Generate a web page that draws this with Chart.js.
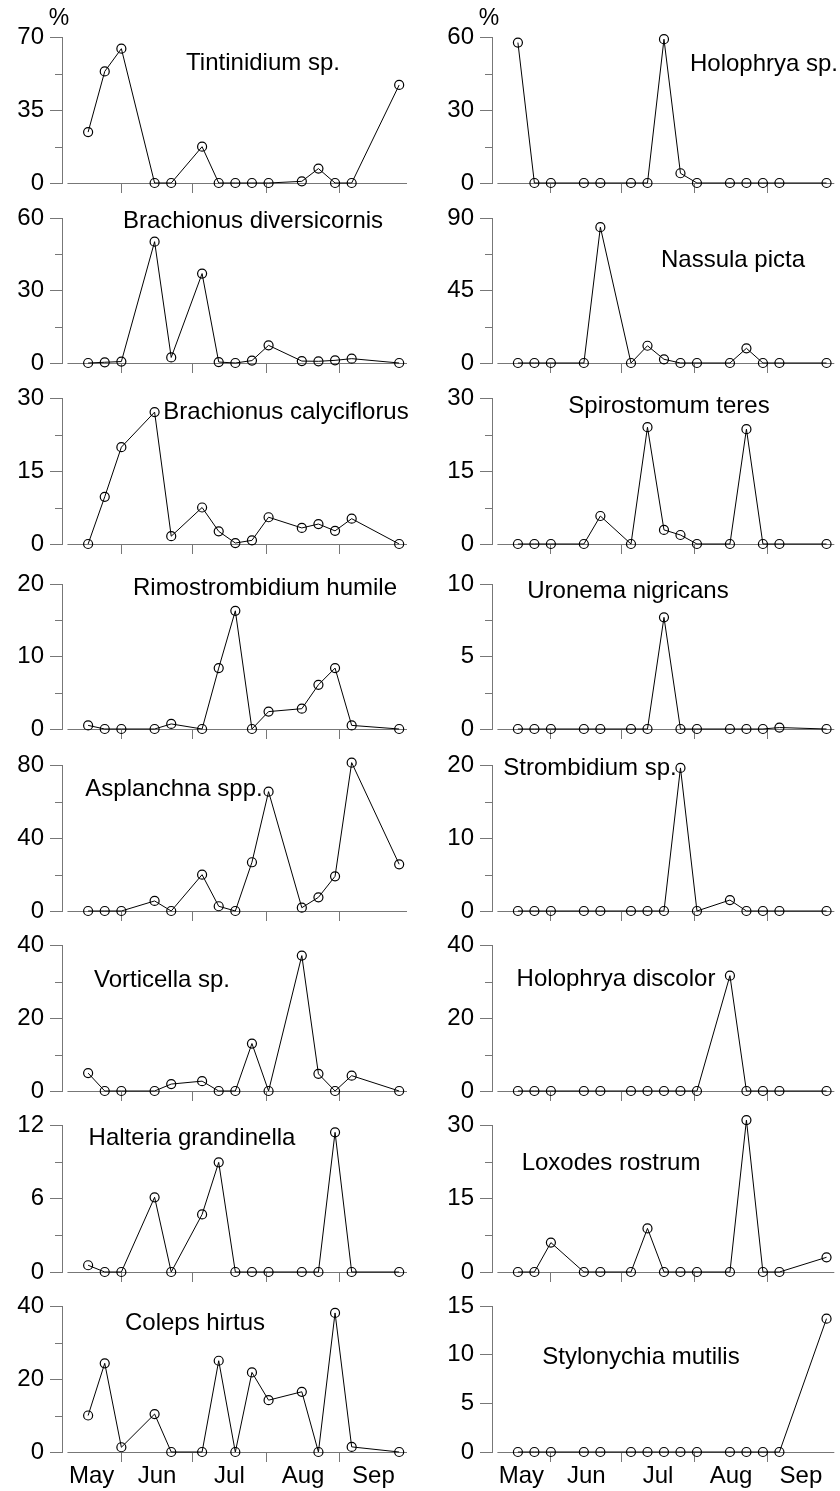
<!DOCTYPE html>
<html><head><meta charset="utf-8">
<script src="https://cdn.jsdelivr.net/npm/chart.js@4.4.0/dist/chart.umd.min.js"></script>
<style>
html,body{margin:0;padding:0;background:#fff;}
#wrap{position:relative;width:840px;height:1491px;overflow:hidden;background:#fff;}
canvas{position:absolute;}
</style></head><body><div id="wrap"></div>
<script>
// ---- data ----
// sampling dates as days after 1 May
const sampleDays = [17, 24, 31, 45, 52, 65, 72, 79, 86, 93, 107, 114, 121, 128, 148];
const monthNames = ['May', 'Jun', 'Jul', 'Aug', 'Sep'];
const monthStarts = [0, 31, 61, 92, 123, 153];

const speciesLeft = ['Tintinidium sp.', 'Brachionus diversicornis', 'Brachionus calyciflorus',
  'Rimostrombidium humile', 'Asplanchna spp.', 'Vorticella sp.', 'Halteria grandinella', 'Coleps hirtus'];
const speciesRight = ['Holophrya sp.', 'Nassula picta', 'Spirostomum teres', 'Uronema nigricans',
  'Strombidium sp.', 'Holophrya discolor', 'Loxodes rostrum', 'Stylonychia mutilis'];
const yMaxLeft = [70, 60, 30, 20, 80, 40, 12, 40];
const yMaxRight = [60, 90, 30, 10, 20, 40, 30, 15];
const yLabelStepLeft = [35, 30, 15, 10, 40, 20, 6, 20];
const yLabelStepRight = [30, 45, 15, 5, 10, 20, 15, 5];

const tintinidium     = [24.4, 53.5, 64.4, 0, 0, 17.4, 0, 0, 0, 0, 0.8, 6.9, 0, 0, 47];
const brachionusDiv   = [0, 0.3, 0.6, 50.2, 2.3, 37, 0.4, 0, 1.0, 7.3, 0.8, 0.7, 1.1, 1.8, 0];
const brachionusCal   = [0, 9.7, 19.9, 27.1, 1.6, 7.5, 2.6, 0.2, 0.75, 5.5, 3.3, 4.1, 2.7, 5.2, 0];
const rimostrombidium = [0.5, 0, 0, 0, 0.7, 0, 8.4, 16.3, 0, 2.4, 2.8, 6.1, 8.4, 0.5, 0];
const asplanchna      = [0, 0, 0, 5.5, 0, 19.9, 2.6, 0, 26.7, 65.4, 1.8, 7.5, 19, 81.3, 25.6];
const vorticella      = [4.9, 0, 0, 0, 1.9, 2.7, 0, 0, 13, 0, 37.1, 4.7, 0, 4.2, 0];
const halteria        = [0.55, 0, 0, 6.1, 0, 4.7, 8.95, 0, 0, 0, 0, 0, 11.4, 0, 0];
const coleps          = [10, 24.3, 1.3, 10.4, 0, 0, 25, 0, 21.8, 14.2, 16.5, 0, 38.1, 1.4, 0];

const holophryaSp     = [57.7, 0, 0, 0, 0, 0, 0, 59.1, 4.0, 0, 0, 0, 0, 0, 0];
const nassula         = [0, 0, 0, 0, 84.3, 0, 10.7, 2.3, 0, 0, 0, 9.1, 0, 0, 0];
const spirostomum     = [0, 0, 0, 0, 5.75, 0, 24.0, 2.9, 1.85, 0, 0, 23.6, 0, 0, 0];
const uronema         = [0, 0, 0, 0, 0, 0, 0, 7.7, 0, 0, 0, 0, 0, 0.1, 0];
const strombidium     = [0, 0, 0, 0, 0, 0, 0, 0, 19.6, 0, 1.5, 0, 0, 0, 0];
const holophryaDis    = [0, 0, 0, 0, 0, 0, 0, 0, 0, 0, 31.6, 0, 0, 0, 0];
const loxodes         = [0, 0, 6.0, 0, 0, 0, 8.9, 0, 0, 0, 0, 31.0, 0, 0, 3.0];
const stylonychia     = [0, 0, 0, 0, 0, 0, 0, 0, 0, 0, 0, 0, 0, 0, 13.7];

const seriesLeft = [tintinidium, brachionusDiv, brachionusCal, rimostrombidium, asplanchna, vorticella, halteria, coleps];
const seriesRight = [holophryaSp, nassula, spirostomum, uronema, strombidium, holophryaDis, loxodes, stylonychia];

// ---- layout (pixels) ----
const rowTop  = [37, 218, 398, 584, 765, 945, 1125, 1306];
const rowZero = [183, 363, 544, 729, 911, 1091, 1272, 1452];
const PAD_TOP = 37, X_AXIS_H = 38;
const colLayout = [{left: 0, width: 420, padRight: 13}, {left: 430, width: 410, padRight: 2}];
const labelOffsetLeft  = [[201, 26], [191, 3], [224, 14], [203, 4], [112, 24], [100, 35], [130, 13], [133, 17]];
const labelOffsetRight = [[272, 27], [241, 42], [177, 8], [136, 7], [98, 3], [124, 34], [119, 38], [149, 51]];

const X_MIN = 6, X_MAX = 151.3, X_LINE_START = 8.3;
const AXIS = '#777';
const FONT = "'Liberation Sans', Arial, Helvetica, sans-serif";
const TICK_SIZE = 24, TITLE_SIZE = 24;

const boundaries = monthStarts.slice(1, 5);
const labelPos = monthNames.map((m, i) => {
  const a = Math.max(monthStarts[i], X_MIN), b = Math.min(monthStarts[i + 1], X_MAX);
  return (a + b) / 2;
});

const decor = {
  id: 'decor',
  beforeDatasetsDraw(chart, args, o) {
    const ctx = chart.ctx, ca = chart.chartArea, xs = chart.scales.x, ys = chart.scales.y;
    ctx.save();
    ctx.strokeStyle = AXIS; ctx.lineWidth = 1;
    const y0 = Math.round(ys.getPixelForValue(0)) + 0.5;
    ctx.beginPath();
    ctx.moveTo(xs.getPixelForValue(X_LINE_START), y0);
    ctx.lineTo(ca.right, y0);
    ctx.stroke();
    // minor y ticks (shorter)
    ys.ticks.forEach((t, i) => {
      if (i % 2 === 1) {
        const py = Math.round(ys.getPixelForValue(t.value)) + 0.5;
        ctx.beginPath(); ctx.moveTo(ca.left - 7, py); ctx.lineTo(ca.left, py); ctx.stroke();
      }
    });
    ctx.restore();
  },
  afterDraw(chart, args, o) {
    const ctx = chart.ctx, ca = chart.chartArea;
    ctx.save();
    ctx.fillStyle = '#000';
    ctx.font = TITLE_SIZE + 'px ' + FONT;
    ctx.textAlign = 'center'; ctx.textBaseline = 'middle';
    ctx.fillText(o.title, ca.left + o.dx, ca.top + o.dy);
    if (o.percent) {
      ctx.font = '23px ' + FONT;
      ctx.fillText('%', ca.left - 3, ca.top - 18);
    }
    ctx.restore();
  }
};

const wrap = document.getElementById('wrap');

function makeChart(col, row) {
  const L = colLayout[col];
  const values = (col === 0 ? seriesLeft : seriesRight)[row];
  const M = (col === 0 ? yMaxLeft : yMaxRight)[row];
  const labelStep = (col === 0 ? yLabelStepLeft : yLabelStepRight)[row];
  const title = (col === 0 ? speciesLeft : speciesRight)[row];
  const off = (col === 0 ? labelOffsetLeft : labelOffsetRight)[row];
  const isBottom = row === 7;
  const plotH = rowZero[row] - rowTop[row];
  const H = PAD_TOP + plotH + X_AXIS_H;
  const cv = document.createElement('canvas');
  cv.width = L.width; cv.height = H;
  cv.style.left = L.left + 'px';
  cv.style.top = (rowTop[row] - PAD_TOP) + 'px';
  cv.style.width = L.width + 'px'; cv.style.height = H + 'px';
  wrap.appendChild(cv);
  const bset = new Set(boundaries);
  const minorStep = labelStep / 2;
  const nTicks = Math.round(M / minorStep);
  new Chart(cv, {
    type: 'line',
    data: {
      datasets: [{
        data: sampleDays.map((d, i) => ({x: d, y: values[i]})),
        borderColor: '#000', borderWidth: 1, tension: 0,
        pointRadius: 4.5, pointBorderWidth: 1.2,
        pointBorderColor: '#000', pointBackgroundColor: 'rgba(0,0,0,0)',
        clip: false
      }]
    },
    options: {
      responsive: false, animation: false, devicePixelRatio: 1,
      layout: {padding: {top: PAD_TOP, right: L.padRight, left: 0, bottom: 0}},
      plugins: {legend: {display: false}, tooltip: {enabled: false},
        decor: {title: title, dx: off[0], dy: off[1], percent: row === 0}},
      scales: {
        x: {
          type: 'linear', min: X_MIN, max: X_MAX,
          afterBuildTicks: s => {
            const vals = boundaries.concat(isBottom ? labelPos : []).sort((a, b) => a - b);
            s.ticks = vals.map(v => ({value: v}));
          },
          afterFit: s => { s.height = X_AXIS_H; },
          ticks: {
            autoSkip: false, maxRotation: 0, padding: 0, color: '#000',
            font: {size: TICK_SIZE, family: FONT},
            callback: v => bset.has(v) ? '' : monthNames[labelPos.indexOf(v)]
          },
          grid: {drawOnChartArea: false, drawTicks: true, tickLength: 10,
            tickColor: c => (c.tick && bset.has(c.tick.value)) ? AXIS : 'rgba(0,0,0,0)'},
          border: {display: false}
        },
        y: {
          min: 0, max: M,
          afterBuildTicks: s => {
            const t = [];
            for (let k = 0; k <= nTicks; k++) t.push({value: k * minorStep});
            s.ticks = t;
          },
          afterFit: s => { s.width = 62; },
          ticks: {
            padding: 6, color: '#000', font: {size: TICK_SIZE, family: FONT},
            callback: (v, i) => i % 2 === 0 ? String(v) : ''
          },
          grid: {drawOnChartArea: false, drawTicks: true, tickLength: 12,
            tickColor: c => c.index % 2 === 0 ? AXIS : 'rgba(0,0,0,0)'},
          border: {display: true, color: AXIS, width: 1}
        }
      }
    },
    plugins: [decor]
  });
}

for (let r = 0; r < 8; r++) { makeChart(0, r); makeChart(1, r); }
</script>
</body></html>
